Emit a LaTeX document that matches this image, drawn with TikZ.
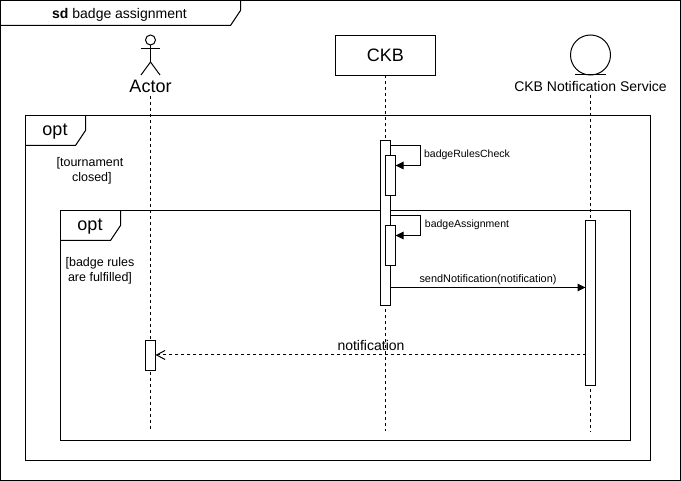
\documentclass[tikz,border=0pt]{standalone}
\usepackage{fontspec}
\setmainfont{Liberation Sans}
\usepackage{tikz}
\usetikzlibrary{arrows.meta}
\tikzstyle{frame}=[draw, rectangle, minimum width=0, inner sep=0, outer sep=0]
\tikzstyle{act}=[draw, rectangle, fill=white, minimum width=10, inner sep=0, outer sep=0]
\tikzstyle{lifeline}=[dash pattern=on 3pt off 3pt]
\tikzstyle{syncmsg}=[-{Triangle[length=8pt,width=7.5pt]}]
\tikzstyle{replymsg}=[-{Straight Barb[length=8.5pt,width=9pt]}, dash pattern=on 3pt off 3pt]
\newcommand{\fs}[1]{\fontsize{#1}{15}\selectfont}

\begin{document}
\begin{tikzpicture}[x=1pt,y=-1pt,line width=1pt]
\useasboundingbox (0,0) rectangle (681,481);
% frames
\node[frame, minimum width=680, minimum height=480] (sdframe) at (340.5,240.5) {};
\node[frame, minimum width=625, minimum height=345] (optouter) at (338,288) {};
\node[frame, minimum width=570, minimum height=230] (optinner) at (345.5,325.5) {};
\draw ([xshift=240]sdframe.north west) -- ++(0,10) -- ++(-10,15) -- ++(-230,0);
\draw ([xshift=60]optouter.north west) -- ++(0,15) -- ++(-10,15) -- ++(-50,0);
\draw ([xshift=60]optinner.north west) -- ++(0,15) -- ++(-10,15) -- ++(-50,0);
\node (sdlabel) at (119.5,14.5) {\fs{14}\textbf{sd} badge assignment};
\node (optouterlabel) at (55,132) {\fs{18}opt};
\node (optinnerlabel) at (90,227) {\fs{18}opt};
\node[align=center, font=\fs{12.5}] (tournament) at (90,170.5) {[tournament\\\hspace*{.3em}closed]};
\node[align=center, font=\fs{12.5}] (fulfilled) at (100,271) {[badge rules\\are fulfilled]};
% participants
\coordinate (head) at (150.5,40);
\coordinate (hip) at (150.5,62);
\draw (head) circle (5);
\draw (150.5,45) -- (hip);
\draw (141,49) -- (160,49);
\draw (141,75) -- (hip) -- (160,75);
\node[inner sep=0] (actor) at (150.5,86) {\fs{18}Actor};
\node[frame, minimum width=100, minimum height=40] (ckb) at (385.5,55.5) {\fs{18}CKB};
\draw (590.5,55) circle (20);
\draw (575,75) -- (606,75);
\node[inner sep=0] (notif) at (590.5,86) {\fs{14}CKB Notification Service};
% lifelines
\coordinate (actorend) at (150.5,431);
\coordinate (ckbend) at (385.5,431);
\coordinate (notifend) at (590.5,431);
\draw[lifeline] ([yshift=-3]actor.south) -- (actorend);
\draw[lifeline] (ckb) -- (ckbend);
\draw[lifeline] ([yshift=-3]notif.south) -- (notifend);
% activations
\node[act, minimum height=165] (ckbact) at (385.5,223) {};
\node[act, minimum height=40] (ckbcheck) at (390.5,175.5) {};
\node[act, minimum height=40] (ckbassign) at (390.5,245.5) {};
\node[act, minimum height=165] (notifact) at (590.5,303) {};
\node[act, minimum height=30] (actoract) at (150.5,355.2) {};
% messages
\coordinate (sendrow) at (0,287.5);
\coordinate (replyrow) at (0,355);
\draw[syncmsg] ([yshift=-5]ckbact.north east) -- ++(30,0) -- ++(0,20) -- ([yshift=-10]ckbcheck.north east);
\draw[syncmsg] ([yshift=-75]ckbact.north east) -- ++(30,0) -- ++(0,20) -- ([yshift=-10]ckbassign.north east);
\draw[syncmsg] (ckbact.east |- sendrow) -- (notifact.west |- sendrow);
\draw[replymsg] (notifact.west |- replyrow) -- (actoract.east |- replyrow);
\node (checklabel) at (467,154.5) {\fs{10.5}badgeRulesCheck};
\node (assignlabel) at (467,225) {\fs{10.5}badgeAssignment};
\node (sendlabel) at (488,279.5) {\fs{10.9}sendNotification(notification)};
\node (replylabel) at (371,345) {\fs{14}notification};
\end{tikzpicture}
\end{document}
